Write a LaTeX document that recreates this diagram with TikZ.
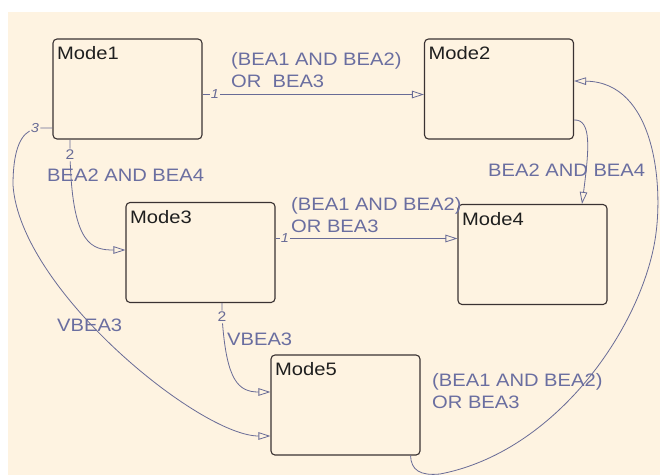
\documentclass[tikz,border=0pt]{standalone}
\usepackage{fontspec}
\setmainfont{Liberation Sans}[FakeStretch=1.12]
\usetikzlibrary{arrows.meta}

\definecolor{paper}{RGB}{254,243,225}
\definecolor{linkblue}{RGB}{104,107,150}
\definecolor{condblue}{RGB}{106,110,160}
\definecolor{framegray}{RGB}{58,50,50}

\begin{document}
\begin{tikzpicture}[x=1pt,y=-1pt,
  state/.style={draw=framegray, line width=1.1pt, rounded corners=4pt,
    minimum width=149pt, minimum height=100pt, inner sep=0pt},
  modename/.style={anchor=base west, inner sep=0pt,
    font=\fontsize{18}{22}\selectfont, text=black!88},
  cond/.style={anchor=base west, inner sep=0pt, align=left,
    font=\fontsize{18}{22}\selectfont, text=condblue},
  prio/.style={inner sep=1.2pt, font=\fontsize{13}{14}\selectfont\itshape, text=linkblue},
  prio up/.style={prio, font=\fontsize{14}{15}\selectfont},
  wire/.style={draw=linkblue, line width=0.8pt},
  tr/.style={wire, -{Triangle[open, length=12pt, width=7.5pt, line width=0.8pt]}},
]
% canvas
\useasboundingbox (0,0) rectangle (660,475);
\fill[white] (0,0) rectangle (660,475);
\fill[paper] (8,12) rectangle (660,475);

% states
\node[state] (m1) at (127.5,89) {};
\node[state] (m2) at (499,89) {};
\node[state] (m3) at (200.5,252.5) {};
\node[state] (m4) at (532.5,254.5) {};
\node[state] (m5) at (345.5,405) {};

\node[modename] (t1) at ([shift={(4.5,21.5)}]m1.north west) {Mode1};
\node[modename] (t2) at ([shift={(4.5,21.5)}]m2.north west) {Mode2};
\node[modename] (t3) at ([shift={(4.5,21.5)}]m3.north west) {Mode3};
\node[modename] (t4) at ([shift={(4.5,21.5)}]m4.north west) {Mode4};
\node[modename] (t5) at ([shift={(4.5,21.5)}]m5.north west) {Mode5};

% transition priorities
\node[prio] (p12) at (215,94.5) {1};
\node[prio] (p34) at (285,238.5) {1};
\node[prio up] (p13) at (70,155) {2};
\node[prio] (p15) at (35,128) {3};
\node[prio up] (p35) at (222,317) {2};

% transitions
\draw[tr] (m1.east |- p12) -- (p12) -- (m2.west |- p12);
\draw[tr] (m3.east |- p34) -- (p34) -- (m4.west |- p34);
\draw[tr] (m1.south -| p13) -- (p13)
  .. controls (73,245) and (92,250) .. ([yshift=2.5pt]m3.west);
\draw[tr] (m3.south -| p35) -- (p35)
  .. controls (227,380) and (238,392) .. ([yshift=13pt]m5.west);
\draw[tr] ([yshift=-39pt]m1.west) -- (p15)
  .. controls (17,138) and (13,160) .. (13,185)
  .. controls (20,290) and (200,436) .. ([yshift=-31pt]m5.west);
\draw[tr] ([yshift=-31pt]m2.east)
  .. controls (592,119) and (589,150) .. ([xshift=49.5pt]m4.north);
\draw[tr] ([xshift=-10pt]m5.south east)
  .. controls (411,470) and (420,476) .. (440,474)
  .. controls (555,452) and (640,330) .. (655,240)
  .. controls (664,186) and (655,82) .. ([yshift=8pt]m2.east);

% guard conditions (multi-line nodes sit on the last line's baseline)
\node[cond] (c12) at (231,87) {(BEA1 AND BEA2)\\OR\ \ BEA3};
\node[cond] (c13) at (47,181.5) {BEA2 AND BEA4};
\node[cond] (c24) at (488,176.5) {BEA2 AND BEA4};
\node[cond] (c34) at (291,232.5) {(BEA1 AND BEA2)\\OR BEA3};
\node[cond] (c15) at (57,331.5) {VBEA3};
\node[cond] (c35) at (227,345.5) {VBEA3};
\node[cond] (c52) at (432,408.5) {(BEA1 AND BEA2)\\OR BEA3};
\end{tikzpicture}
\end{document}
